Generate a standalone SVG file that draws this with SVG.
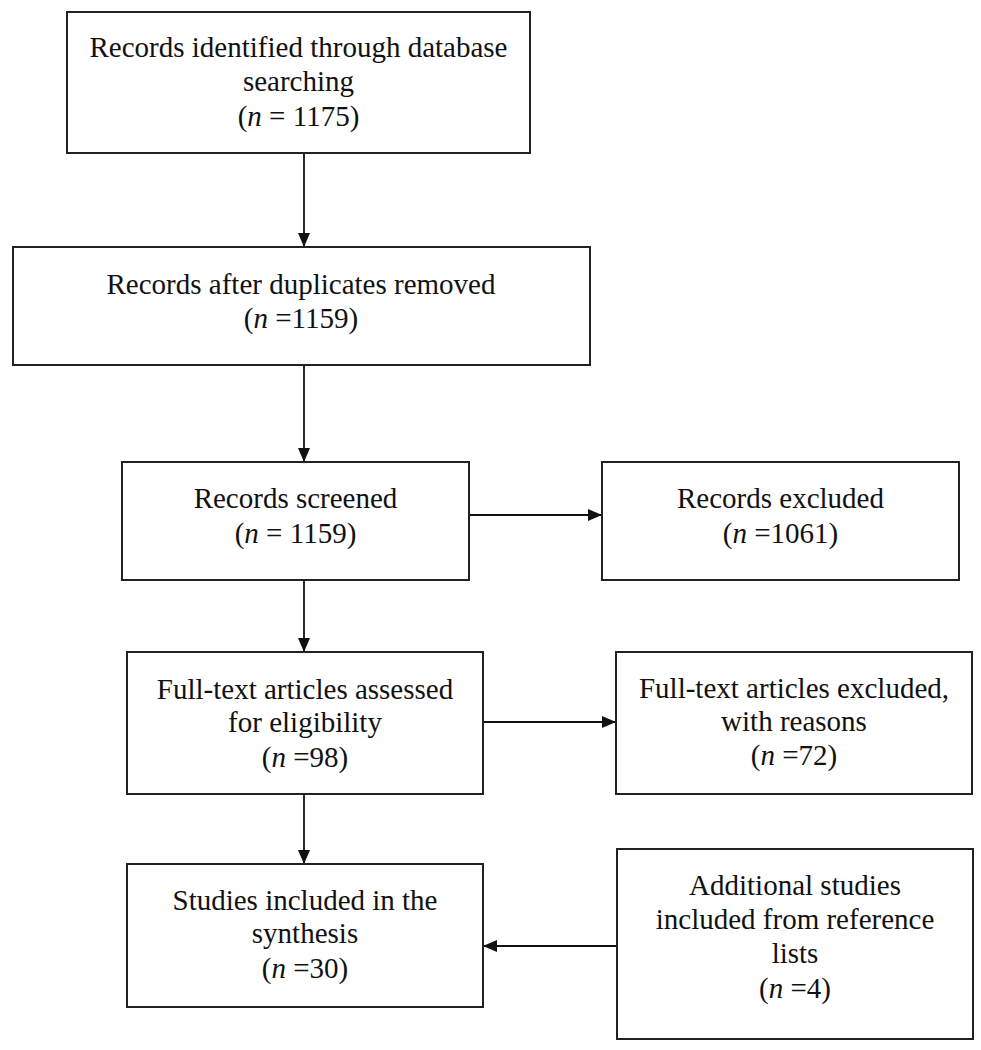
<svg xmlns="http://www.w3.org/2000/svg" width="981" height="1050" viewBox="0 0 981 1050">
<defs>
<style>
.box{fill:#fff;stroke:#222;stroke-width:2}
.t{font-family:"Liberation Serif","Times New Roman",serif;font-size:29px;fill:#111;text-anchor:middle}
.i{font-style:italic}
.c{stroke:#111;stroke-width:1.8;fill:none}
</style>
<marker id="ah" viewBox="0 0 14 12" refX="14" refY="6" markerWidth="14" markerHeight="12" markerUnits="userSpaceOnUse" orient="auto">
<path d="M0,0 L14,6 L0,12 Z" fill="#111"/>
</marker>
</defs>
<rect width="981" height="1050" fill="#fff"/>
<g id="connectors">
<line class="c" x1="304" y1="153" x2="304" y2="247" marker-end="url(#ah)"/>
<line class="c" x1="304" y1="365" x2="304" y2="462" marker-end="url(#ah)"/>
<line class="c" x1="469" y1="515" x2="602" y2="515" marker-end="url(#ah)"/>
<line class="c" x1="304" y1="580" x2="304" y2="652" marker-end="url(#ah)"/>
<line class="c" x1="483" y1="722" x2="616" y2="722" marker-end="url(#ah)"/>
<line class="c" x1="304" y1="794" x2="304" y2="864" marker-end="url(#ah)"/>
<line class="c" x1="617" y1="946" x2="483" y2="946" marker-end="url(#ah)"/>
</g>
<g id="identified">
<rect class="box" x="67" y="12" width="463" height="141"/>
<text class="t" x="298.5" y="57">Records identified through database</text>
<text class="t" x="298.5" y="91">searching</text>
<text class="t" x="298.5" y="126">(<tspan class="i">n</tspan> = 1175)</text>
</g>
<g id="deduplicated">
<rect class="box" x="13" y="247" width="577" height="118"/>
<text class="t" x="301" y="294">Records after duplicates removed</text>
<text class="t" x="301" y="328">(<tspan class="i">n</tspan> =1159)</text>
</g>
<g id="screened">
<rect class="box" x="122" y="462" width="347" height="118"/>
<text class="t" x="295.5" y="508">Records screened</text>
<text class="t" x="295.5" y="543">(<tspan class="i">n</tspan> = 1159)</text>
</g>
<g id="excluded">
<rect class="box" x="602" y="462" width="357" height="118"/>
<text class="t" x="780.5" y="508">Records excluded</text>
<text class="t" x="780.5" y="543">(<tspan class="i">n</tspan> =1061)</text>
</g>
<g id="assessed">
<rect class="box" x="127" y="652" width="356" height="142"/>
<text class="t" x="305" y="699">Full-text articles assessed</text>
<text class="t" x="305" y="732">for eligibility</text>
<text class="t" x="305" y="767">(<tspan class="i">n</tspan> =98)</text>
</g>
<g id="fulltext-excluded">
<rect class="box" x="616" y="652" width="356" height="142"/>
<text class="t" x="794" y="698">Full-text articles excluded,</text>
<text class="t" x="794" y="731">with reasons</text>
<text class="t" x="794" y="765">(<tspan class="i">n</tspan> =72)</text>
</g>
<g id="included">
<rect class="box" x="127" y="864" width="356" height="143"/>
<text class="t" x="305" y="910">Studies included in the</text>
<text class="t" x="305" y="943">synthesis</text>
<text class="t" x="305" y="978">(<tspan class="i">n</tspan> =30)</text>
</g>
<g id="additional">
<rect class="box" x="617" y="849" width="356" height="190"/>
<text class="t" x="795" y="895">Additional studies</text>
<text class="t" x="795" y="929">included from reference</text>
<text class="t" x="795" y="963">lists</text>
<text class="t" x="795" y="998">(<tspan class="i">n</tspan> =4)</text>
</g>
</svg>
